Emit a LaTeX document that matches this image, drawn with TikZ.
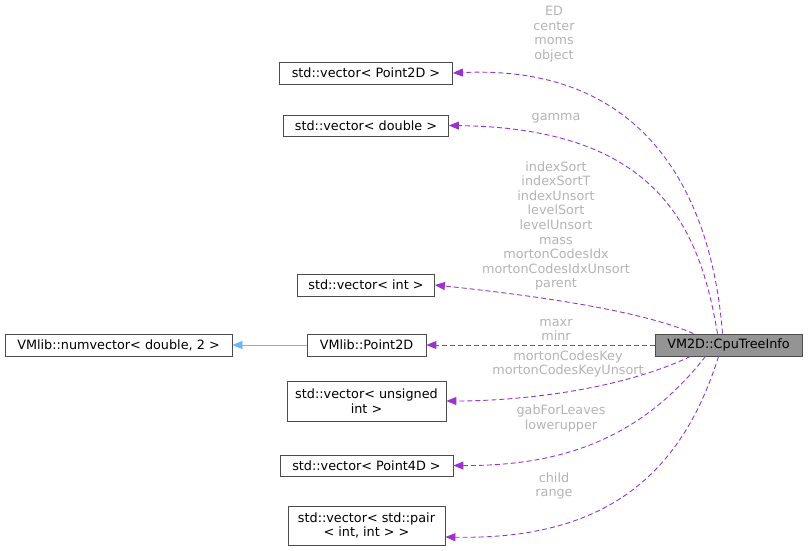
\documentclass[tikz,border=0pt]{standalone}
\usepackage{fontspec}
\setmainfont{DejaVu Sans}
\usetikzlibrary{arrows.meta}
\definecolor{edge}{HTML}{9A32CD}
\definecolor{lbl}{HTML}{B4B4B4}
\definecolor{inh}{HTML}{63B8FF}
\begin{document}
\begin{tikzpicture}[x=1pt,y=-1pt,
  box/.style={draw=black!70,line width=0.8pt,fill=white,font=\fontsize{12.8}{14.5}\selectfont,inner sep=0pt,align=center},
  dep/.style={color=edge,line width=0.9pt,dash pattern=on 5pt off 3pt,-{Triangle[length=10pt,width=8pt,fill=edge]}},
  lab/.style={text=lbl,font=\fontsize{12.8}{14.6}\selectfont,align=center,inner sep=0pt}]
\useasboundingbox (0,0) rectangle (808,551);
\node[box,minimum width=173pt,minimum height=22pt] (p2v) at (366,73) {std::vector< Point2D >};
\node[box,minimum width=165pt,minimum height=21pt] (dbl) at (366,125.5) {std::vector< double >};
\node[box,minimum width=137pt,minimum height=22pt] (int) at (366,285) {std::vector< int >};
\node[box,minimum width=119pt,minimum height=22pt] (pt) at (366.5,345) {VMlib::Point2D};
\node[box,minimum width=227pt,minimum height=22pt] (nv) at (118.5,345) {VMlib::numvector< double, 2 >};
\node[box,minimum width=159pt,minimum height=40pt] (uns) at (366.5,401) {std::vector< unsigned\\int >};
\node[box,minimum width=173pt,minimum height=21pt] (p4) at (366.5,465.5) {std::vector< Point4D >};
\node[box,minimum width=157pt,minimum height=39pt] (pr) at (366.5,525.5) {std::vector< std::pair\\< int, int > >};
\node[box,fill=black!42,minimum width=147pt,minimum height=22pt] (cpu) at (728.5,345) {VM2D::CpuTreeInfo};

\draw[color=inh,line width=0.8pt,-{Triangle[length=10pt,width=8pt,fill=inh]}] (pt.west) -- (nv.east);
\draw[dep] (cpu.north) ++(-6,0) coordinate (c1) .. controls (712,200) and (650,64) .. (p2v.east);
\draw[dep] (cpu.north) ++(-11,0) coordinate (c2) .. controls (700,230) and (660,128) .. (dbl.east);
\draw[dep] (cpu.north) ++(-35,0) coordinate (c3) .. controls (640,310) and (530,295) .. (int.east);
\draw[dep] (cpu.west) -- (pt.east);
\draw[dep] (cpu.south) ++(-38,0) coordinate (c5) .. controls (620,390) and (520,401) .. (uns.east);
\draw[dep] (cpu.south) ++(-23,0) coordinate (c6) .. controls (640,440) and (560,466) .. (p4.east);
\draw[dep] (cpu.south) ++(-10,0) coordinate (c7) .. controls (680,480) and (600,540) .. (pr.east |- 0,537) coordinate (pe);

\node[lab] at (554,34) {ED\\center\\moms\\object};
\node[lab] at (556,118) {gamma};
\node[lab] at (556,226) {indexSort\\indexSortT\\indexUnsort\\levelSort\\levelUnsort\\mass\\mortonCodesIdx\\mortonCodesIdxUnsort\\parent};
\node[lab] at (556,330) {maxr\\minr};
\node[lab] at (568,364) {mortonCodesKey\\mortonCodesKeyUnsort};
\node[lab] at (561,418.5) {gabForLeaves\\lowerupper};
\node[lab] at (554,486) {child\\range};
\end{tikzpicture}
\end{document}
